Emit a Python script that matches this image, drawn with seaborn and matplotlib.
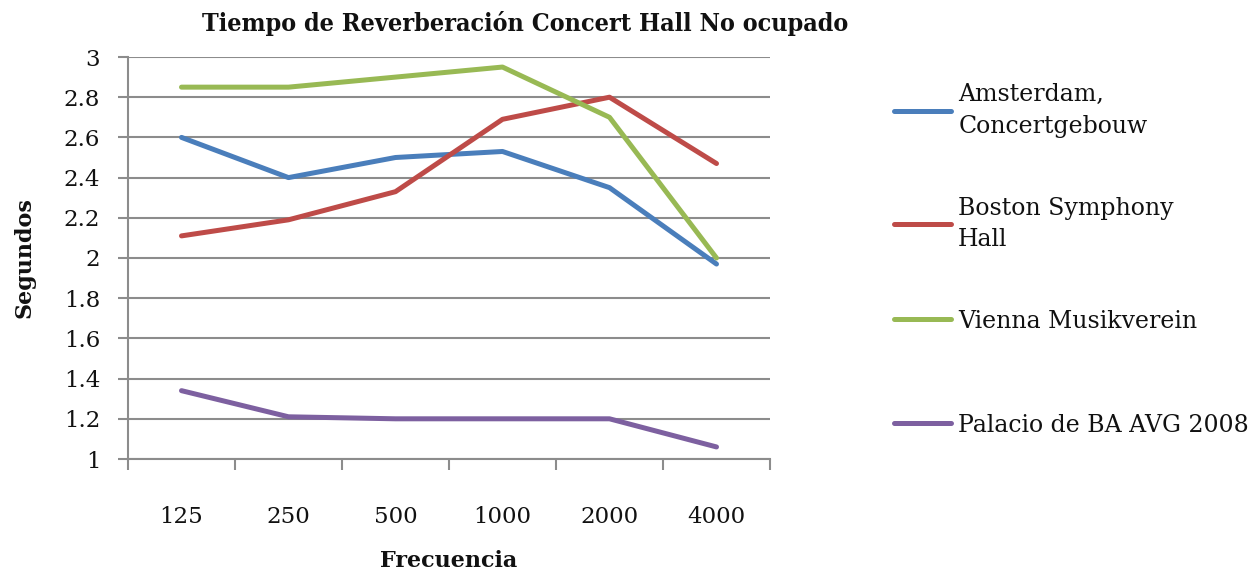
import matplotlib
matplotlib.use("Agg")
import matplotlib.pyplot as plt
import seaborn as sns
import pandas as pd
import numpy as np
from matplotlib.ticker import FixedLocator

frequencies = ["125", "250", "500", "1000", "2000", "4000"]
amsterdam = [2.60, 2.40, 2.50, 2.53, 2.35, 1.97]
boston = [2.11, 2.19, 2.33, 2.69, 2.80, 2.47]
vienna = [2.85, 2.85, 2.90, 2.95, 2.70, 2.00]
palacio = [1.34, 1.21, 1.20, 1.20, 1.20, 1.06]
series_names = ["Amsterdam,\nConcertgebouw", "Boston Symphony\nHall",
                "Vienna Musikverein", "Palacio de BA AVG 2008"]
y_ticks = [1, 1.2, 1.4, 1.6, 1.8, 2, 2.2, 2.4, 2.6, 2.8, 3]
y_tick_labels = ["1", "1.2", "1.4", "1.6", "1.8", "2", "2.2", "2.4", "2.6", "2.8", "3"]

colors = ["#4A7EBB", "#BE4B48", "#98B954", "#7D60A0"]

rows = []
for name, vals in zip(series_names, [amsterdam, boston, vienna, palacio]):
    for f, v in zip(frequencies, vals):
        rows.append({"Frecuencia": f, "Segundos": v, "Serie": name})
df = pd.DataFrame(rows)

sns.set_theme(style="white")
plt.rcParams["font.family"] = ["DejaVu Serif"]

fig = plt.figure(figsize=(12.58, 5.76), dpi=100)
ax = fig.add_axes([128 / 1258, 1 - 459 / 576, (770 - 128) / 1258, (459 - 57) / 576])

sns.lineplot(data=df, x="Frecuencia", y="Segundos", hue="Serie",
             palette=colors, linewidth=3.6, ax=ax, sort=False)

ax.set_xlim(-0.5, len(frequencies) - 0.5)
ax.set_ylim(1, 3)
ax.set_yticks(y_ticks)
ax.set_yticklabels(y_tick_labels)
ax.yaxis.grid(True, color="#8C8C8C", linewidth=1.5)
ax.xaxis.grid(False)
ax.set_axisbelow(True)

for s in ["top", "right"]:
    ax.spines[s].set_visible(False)
for s in ["left", "bottom"]:
    ax.spines[s].set_color("#8C8C8C")
    ax.spines[s].set_linewidth(1.5)

ax.xaxis.set_minor_locator(FixedLocator(np.arange(-0.5, len(frequencies), 1.0)))
ax.tick_params(axis="x", which="major", length=0, pad=34, labelsize=16.5, colors="#111111")
ax.tick_params(axis="x", which="minor", length=8, width=1.5, color="#8C8C8C", direction="out", bottom=True)
ax.tick_params(axis="y", which="major", length=7, width=1.5, color="#8C8C8C", direction="out",
               left=True, labelsize=16.5, pad=13, labelcolor="#111111")

ax.set_xlabel("Frecuencia", fontsize=16, fontweight="bold", labelpad=16, color="#111111")
ax.set_ylabel("Segundos", fontsize=16, fontweight="bold", labelpad=20, color="#111111")
fig.text(525 / 1258, 1 - 23 / 576, "Tiempo de Reverberación Concert Hall No ocupado",
         ha="center", va="center", fontsize=18, fontweight="bold",
         fontstretch="condensed", color="#111111")

handles, labels = ax.get_legend_handles_labels()
leg_kw = dict(frameon=False, fontsize=17, handlelength=2.4, handletextpad=0.3,
              borderaxespad=0, bbox_transform=fig.transFigure)
leg1 = ax.legend(handles[:3], labels[:3], loc="upper left",
                 bbox_to_anchor=(885 / 1258, 1 - 74 / 576), labelspacing=2.5, **leg_kw)
for t in leg1.get_texts():
    t.set_color("#111111")
    t.set_linespacing(1.45)
ax.add_artist(leg1)
leg2 = ax.legend(handles[3:], labels[3:], loc="center left",
                 bbox_to_anchor=(885 / 1258, 1 - 425 / 576), **leg_kw)
for t in leg2.get_texts():
    t.set_color("#111111")

fig.savefig("out.png", dpi=100)
